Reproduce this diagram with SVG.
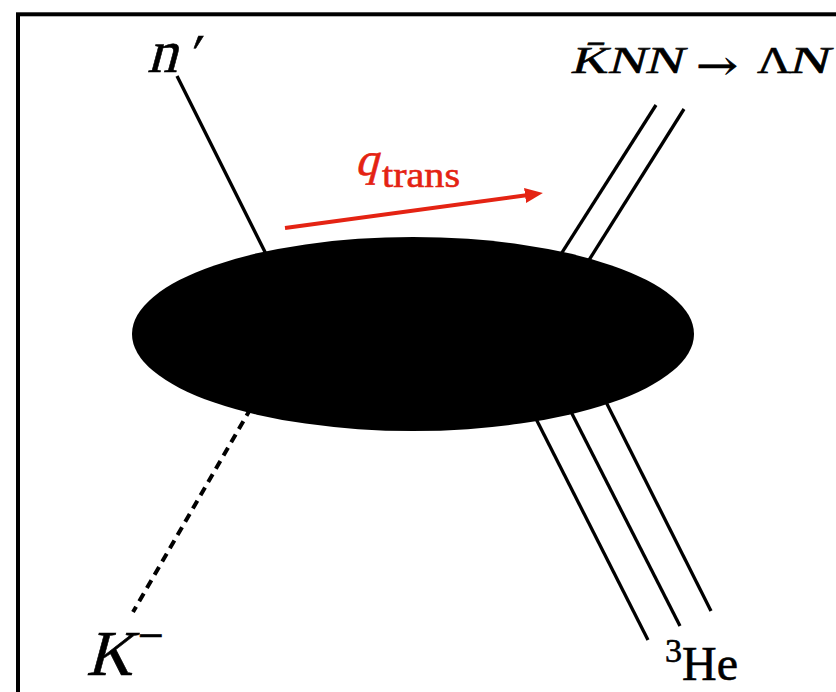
<svg xmlns="http://www.w3.org/2000/svg" width="836" height="692" viewBox="0 0 836 692">
<defs>
<style>
.ln{stroke:#000;stroke-width:3.3;fill:none}
.dash{stroke:#000;stroke-width:4;stroke-dasharray:9 6.3;fill:none}
.t{font-family:"Liberation Serif","Times New Roman",serif;fill:#000;stroke:#000;stroke-width:0.6}
.red{fill:#E42313;stroke:#E42313}
</style>
<marker id="ah" markerUnits="userSpaceOnUse" markerWidth="18" markerHeight="15" viewBox="0 0 18 15" refX="5" refY="7.5" orient="auto">
<path d="M0,0 L18,7.5 L0,15 Z" fill="#E42313"/>
</marker>
</defs>
<rect width="836" height="692" fill="#fff"/>
<rect x="18" y="14.3" width="900" height="800" fill="none" stroke="#000" stroke-width="4"/>
<g id="connectors">
<line class="ln" x1="177" y1="76" x2="272" y2="266"/>
<line class="ln" x1="656" y1="105" x2="556" y2="262"/>
<line class="ln" x1="684" y1="109" x2="584" y2="268"/>
<line class="ln" x1="648" y1="640" x2="529" y2="405"/>
<line class="ln" x1="680" y1="626" x2="564" y2="398"/>
<line class="ln" x1="711" y1="611" x2="600" y2="390"/>
<line class="dash" x1="251" y1="408" x2="133" y2="612"/>
<line x1="285" y1="228" x2="530" y2="194.8" stroke="#E42313" stroke-width="4" marker-end="url(#ah)"/>
</g>
<g id="blob">
<ellipse cx="413" cy="334" rx="281" ry="97" fill="#000"/>
</g>
<g id="n-prime">
<text class="t" transform="translate(147,72) skewX(-15)" font-size="60">n<tspan x="38" y="-2" font-size="52">′</tspan></text>
</g>
<g id="kbar-nn">
<text class="t" transform="translate(570,73) skewX(-15)" font-size="38" textLength="112" lengthAdjust="spacingAndGlyphs">K̄NN</text>
<text class="t" x="696" y="79" font-size="40" textLength="42" lengthAdjust="spacingAndGlyphs" style="font-family:'DejaVu Serif',serif">→</text>
<text class="t" x="757" y="73" font-size="38" textLength="34" lengthAdjust="spacingAndGlyphs">Λ</text>
<text class="t" transform="translate(788,73) skewX(-15)" font-size="38" textLength="40" lengthAdjust="spacingAndGlyphs">N</text>
</g>
<g id="q-trans">
<text class="t red" transform="translate(355,175) skewX(-15)" font-size="46">q</text>
<text class="t red" x="382" y="187" font-size="36" textLength="78" lengthAdjust="spacingAndGlyphs">trans</text>
</g>
<g id="k-minus">
<text class="t" transform="translate(86,675) skewX(-15)" font-size="64">K</text>
<text class="t" x="138" y="651" font-size="46">−</text>
</g>
<g id="he3">
<text class="t"><tspan x="665" y="662" font-size="34">3</tspan><tspan x="682" y="680" font-size="48">He</tspan></text>
</g>
</svg>
